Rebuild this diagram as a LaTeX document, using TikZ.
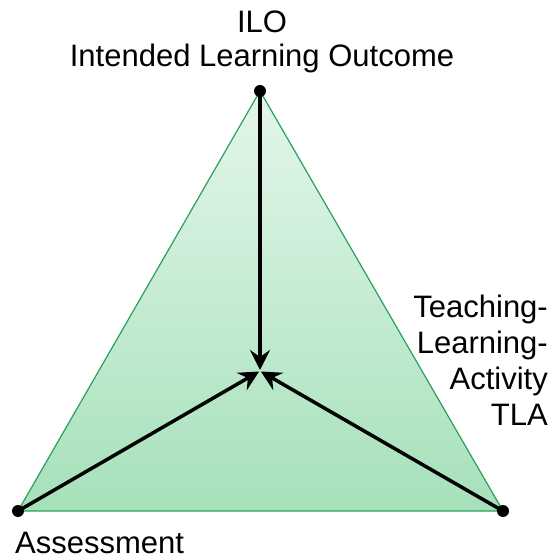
\documentclass[tikz,border=0pt]{standalone}
\usepackage{fontspec}
\setmainfont{Liberation Sans}
\usetikzlibrary{arrows.meta}
\definecolor{triedge}{RGB}{40,160,90}
\definecolor{toplight}{RGB}{228,246,234}
\definecolor{botdark}{RGB}{166,225,186}
\begin{document}
\begin{tikzpicture}[x=1pt,y=1pt,
  lbl/.style={inner sep=0pt,font=\fontsize{31}{36}\selectfont},
  vdot/.style={circle,fill=black,inner sep=0pt,minimum size=12pt},
  arr/.style={line width=3.5pt,-{Stealth[length=20pt,width=20pt,inset=7pt]},shorten >=1pt}]
\useasboundingbox (0,0) rectangle (555,557);
\coordinate (T) at (260,466);
\coordinate (L) at (18,46);
\coordinate (R) at (503,46);
\coordinate (C) at (260,186);
\draw[triedge,line width=1.2pt,top color=toplight,bottom color=botdark] (T) -- (L) -- (R) -- cycle;
\draw[arr] (T) -- (C);
\draw[arr] (L) -- (C);
\draw[arr] (R) -- (C);
\node[vdot] (dT) at (T) {};
\node[vdot] (dL) at (L) {};
\node[vdot] (dR) at (R) {};
\node[lbl,anchor=north,align=center,font=\fontsize{31}{34.5}\selectfont] (ilo) at (262,546.5) {ILO\\Intended Learning Outcome};
\node[lbl,anchor=base west] (ass) at (15,4) {Assessment};
\node[lbl,anchor=north east,align=right] (tla) at (548,262.5) {Teaching-\\Learning-\\Activity\\TLA};
\end{tikzpicture}
\end{document}
